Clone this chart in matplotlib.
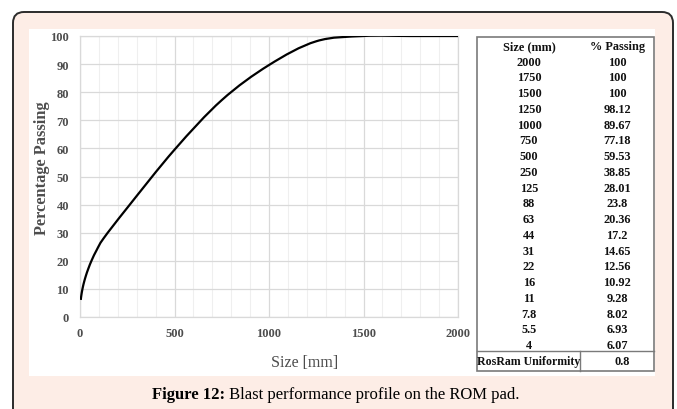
import matplotlib.pyplot as plt
import numpy as np
from matplotlib.patches import FancyBboxPatch, Rectangle, PathPatch
from matplotlib.path import Path
from matplotlib.lines import Line2D

# sieve table (size in mm, cumulative % passing)
sizes = [2000, 1750, 1500, 1250, 1000, 750, 500, 250, 125, 88, 63, 44, 31, 22, 16, 11, 7.8, 5.5, 4]
passing = [100, 100, 100, 98.12, 89.67, 77.18, 59.53, 38.85, 28.01, 23.8, 20.36, 17.2, 14.65,
           12.56, 10.92, 9.28, 8.02, 6.93, 6.07]
size_labels = ["2000", "1750", "1500", "1250", "1000", "750", "500", "250", "125", "88", "63",
               "44", "31", "22", "16", "11", "7.8", "5.5", "4"]
passing_labels = ["100", "100", "100", "98.12", "89.67", "77.18", "59.53", "38.85", "28.01", "23.8",
                  "20.36", "17.2", "14.65", "12.56", "10.92", "9.28", "8.02", "6.93", "6.07"]
uniformity = 0.8

x_ticks = [0, 500, 1000, 1500, 2000]
x_minor = list(range(0, 2001, 100))
y_ticks = list(range(0, 101, 10))

W, H = 677, 410
PINK = "#fdede6"
GREY = "#4d4d4d"
SERIF = ["Liberation Serif", "DejaVu Serif"]
plt.rcParams["font.family"] = SERIF


def fx(x):
    return x / W


def fy(y):
    return 1 - y / H


fig = plt.figure(figsize=(W / 100, H / 100), dpi=100)

# rounded outer frame and white panel (behind the axes)
frame = FancyBboxPatch((13, -12), 660, 410 - 13 + 12, boxstyle="round,pad=0,rounding_size=11",
                       transform=None, facecolor=PINK, edgecolor="#2b2b2b", linewidth=1.4,
                       zorder=-3)
fig.patches.append(frame)
fig.patches.append(Rectangle((29, H - 377), 626, 347, transform=None,
                             facecolor="white", edgecolor="none", zorder=-2))

ax = fig.add_axes([fx(80), fy(318), (458 - 80) / W, (318 - 37) / H])
ax.set_facecolor("white")

# smooth line through the sieve points (cardinal spline as cubic beziers)
order = np.argsort(sizes)
xs = np.array(sizes, dtype=float)[order]
ys = np.array(passing, dtype=float)[order]
pts = np.column_stack([xs, ys])
verts = [pts[0]]
codes = [Path.MOVETO]
n = len(pts)
for i in range(n - 1):
    p0 = pts[max(i - 1, 0)]
    p1 = pts[i]
    p2 = pts[i + 1]
    p3 = pts[min(i + 2, n - 1)]
    c1 = p1 + (p2 - p0) / 6
    c2 = p2 - (p3 - p1) / 6
    verts += [c1, c2, p2]
    codes += [Path.CURVE4] * 3
ax.add_patch(PathPatch(Path(verts, codes), facecolor="none", edgecolor="black", lw=1.6,
                       zorder=3))

ax.set_xlim(0, 2000)
ax.set_ylim(0, 100)
ax.set_xticks(x_ticks)
ax.set_xticklabels([str(v) for v in x_ticks], fontweight="bold")
ax.set_xticks(x_minor, minor=True)
ax.set_yticks(y_ticks)
ax.set_yticklabels([str(v) for v in y_ticks], fontweight="bold")
ax.grid(which="major", color="#d9d9d9", lw=0.9)
ax.grid(which="minor", axis="x", color="#efefef", lw=0.8)
ax.set_axisbelow(True)
for s in ax.spines.values():
    s.set_color("#d9d9d9")
    s.set_linewidth(0.9)
ax.tick_params(which="both", length=0)
ax.tick_params(axis="y", pad=8, labelsize=9, labelcolor=GREY)
ax.tick_params(axis="x", pad=7, labelsize=9, labelcolor=GREY)

fig.text(fx(305), fy(363), "Size [mm]", ha="center", va="center", fontsize=11.5, color=GREY)
fig.text(fx(42), fy(168), "Percentage Passing", ha="center", va="center", rotation=90,
         fontsize=11.8, fontweight="bold", color=GREY)

# data table on the right
tl, tr, tt, tb = 477, 654, 38, 372
c1x, c2x = 529, 617
row0, dy = 47, 15.74
fig.patches.append(Rectangle((tl, H - tb), tr - tl, tb - tt, transform=None,
                             facecolor="none", edgecolor="#7a7a7a", lw=1.2))
fig.lines.append(Line2D([tl, tr], [H - 352, H - 352], transform=None, color="#7a7a7a", lw=1.0))
fig.lines.append(Line2D([580, 580], [H - 352, H - tb], transform=None, color="#7a7a7a", lw=1.0))

tkw = dict(ha="center", va="center", fontsize=8.8, fontweight="bold", color="#111111")
fig.text(fx(c1x), fy(row0), "Size (mm)", **tkw)
fig.text(fx(c2x), fy(row0), "% Passing", **tkw)
for i, (s, p) in enumerate(zip(size_labels, passing_labels)):
    y = row0 + (i + 1) * dy
    fig.text(fx(c1x), fy(y), s, **tkw)
    fig.text(fx(c2x), fy(y), p, **tkw)
fig.text(fx(529), fy(362.5), "RosRam Uniformity", **dict(tkw, fontsize=8.6))
fig.text(fx(622), fy(362.5), f"{uniformity}", **tkw)

# caption with bold prefix
cap_b = "Figure 12:"
cap_r = " Blast performance profile on the ROM pad."
t1 = fig.text(0, fy(395), cap_b, ha="left", va="center", fontsize=12, fontweight="bold")
t2 = fig.text(0, fy(395), cap_r, ha="left", va="center", fontsize=12)
r = fig.canvas.get_renderer()
w1 = t1.get_window_extent(r).width
w2 = t2.get_window_extent(r).width
x0 = 336 - (w1 + w2) / 2
t1.set_x(fx(x0))
t2.set_x(fx(x0 + w1))

fig.savefig("out.png", dpi=100, facecolor="white")
